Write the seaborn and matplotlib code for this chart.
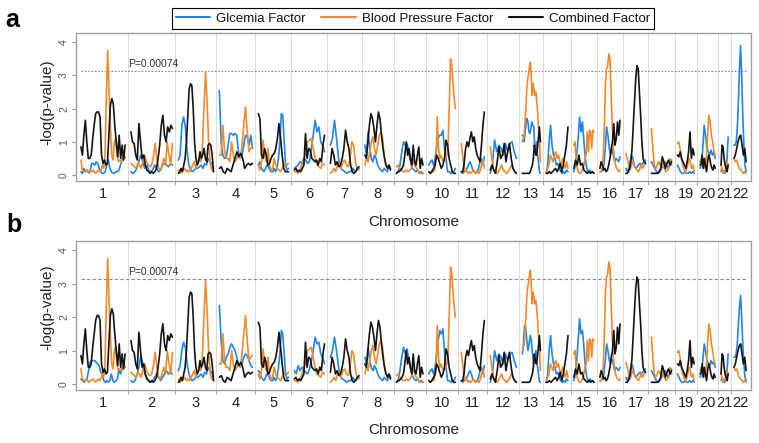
import numpy as np
import pandas as pd
import matplotlib
matplotlib.use("Agg")
import matplotlib.pyplot as plt
from matplotlib.lines import Line2D
import seaborn as sns

# ---------------- data ----------------
CHROMS = [str(i) for i in range(1, 23)]
CHR_LEN_CM = [290, 275, 238, 226, 209, 209, 200, 183, 188, 188, 168, 186,
              139, 160, 151, 151, 148, 151, 131, 122, 75, 104]
THRESH_P = 0.00074
SERIES = ["Glcemia Factor", "Blood Pressure Factor", "Combined Factor"]

# Blood pressure factor (identical in both panels)
BP = [
    [0.45, 0.15, 0.1, 0.1, 0.15, 0.1, 0.05, 0.1, 0.1, 0.15, 0.1, 0.05, 0.1, 0.15, 0.1, 0.15, 0.3, 0.2, 0.6, 2.4, 3.75, 2.5, 1.5, 0.6, 0.45, 1.0, 1.1, 0.6, 0.4, 0.45, 0.4, 0.5, 0.6, 0.5],
    [0.35, 0.3, 0.25, 0.2, 0.35, 0.3, 0.2, 0.45, 0.6, 0.4, 0.3, 0.25, 0.3, 0.55, 0.95, 0.5, 0.2, 0.15, 0.3, 0.5, 0.3, 1.0, 0.6, 0.3, 0.95],
    [0.15, 0.05, 0.1, 0.15, 0.2, 0.1, 0.15, 0.1, 0.2, 0.3, 0.4, 0.2, 0.35, 0.5, 0.4, 0.8, 2.0, 3.1, 2.2, 0.9, 0.3, 0.15, 0.1],
    [0.6, 0.6, 1.5, 0.7, 0.5, 0.5, 0.4, 1.0, 0.6, 0.4, 0.5, 0.6, 0.5, 0.9, 1.5, 2.05, 1.3, 0.7, 0.8, 0.85],
    [0.3, 0.15, 0.4, 1.05, 0.6, 0.4, 0.8, 0.3, 0.15, 0.2, 0.5, 0.3, 0.2, 0.15, 0.1, 0.2, 0.3, 0.35, 0.3, 0.35],
    [0.1, 0.1, 0.05, 0.15, 0.3, 0.5, 0.6, 1.0, 1.05, 1.1, 0.8, 0.5, 0.3, 0.25, 0.2, 0.35, 0.3],
    [0.05, 0.1, 0.2, 0.1, 0.3, 0.35, 0.2, 0.4, 0.45, 0.3, 0.25, 0.5, 1.0, 0.9, 0.4, 0.2, 0.15],
    [0.3, 0.5, 0.4, 0.7, 1.0, 1.15, 0.8, 0.6, 0.9, 1.2, 1.3, 1.1, 0.6, 0.3, 0.25, 0.3, 0.2],
    [0.25, 0.3, 0.2, 0.15, 0.1, 0.1, 0.15, 0.1, 0.15, 0.2, 0.5, 0.3, 0.2, 0.15, 0.05, 0.05, 0.05],
    [0.1, 0.05, 0.1, 0.15, 0.1, 0.2, 0.5, 1.75, 0.8, 0.5, 0.6, 0.5, 0.4, 0.45, 0.5, 0.6, 1.0, 2.2, 3.5, 3.3, 2.8, 2.3, 2.0],
    [0.95, 0.6, 0.3, 0.1, 0.15, 0.05, 0.1, 0.05, 0.1, 0.15, 0.1, 0.05, 0.1, 0.05, 0.15, 0.3, 0.45, 0.2],
    [0.85, 0.5, 0.2, 0.1, 0.05, 0.1, 0.2, 0.3, 0.15, 0.1, 0.05, 0.1, 0.2, 0.3, 0.2, 0.1, 0.05],
    [1.0, 1.1, 1.15, 1.6, 2.0, 2.6, 2.9, 3.05, 3.3, 3.4, 2.9, 2.4, 2.75, 2.6, 2.4, 2.5, 2.2, 1.9, 1.4, 1.0, 0.4],
    [0.1, 0.2, 0.3, 0.6, 0.5, 0.4, 0.6, 0.7, 0.5, 0.6, 0.4, 0.3, 0.5, 0.3, 0.2, 0.4, 0.2],
    [0.9, 1.0, 0.5, 0.2, 0.1, 0.05, 0.05, 0.1, 0.2, 0.3, 0.5, 0.6, 1.3, 0.7, 1.35, 1.3, 0.8, 1.35, 1.3],
    [0.1, 0.1, 0.2, 0.5, 1.5, 2.8, 3.2, 3.3, 3.65, 3.5, 2.5, 1.5, 0.8, 0.5, 0.3, 0.2, 0.15, 0.1, 0.15],
    [0.65, 0.5, 0.3, 0.15, 0.3, 0.4, 0.3, 0.2, 0.15, 0.1, 0.2, 0.3, 0.2, 0.3, 0.35],
    [1.4, 0.8, 0.3, 0.2, 0.3, 0.4, 0.3, 0.4, 0.3, 0.2, 0.1, 0.15, 0.2, 0.5, 0.3],
    [0.95, 1.0, 0.8, 0.5, 0.3, 0.2, 0.1, 0.15, 0.3, 0.5, 0.4, 0.2, 0.3, 0.1],
    [0.4, 0.5, 0.3, 0.2, 0.3, 0.5, 1.2, 1.8, 1.6, 1.2, 1.0, 0.7, 0.6],
    [0.3, 0.2, 0.05, 0.1, 0.1, 0.2, 0.4, 0.3, 0.35],
    [0.5, 0.4, 0.45, 0.3, 0.2, 0.15, 0.1, 0.05, 0.1, 0.05],
]

# Glycemia factor, panel a
GLY_A = [
    [0.1, 0.05, 0.2, 0.1, 0.15, 0.1, 0.1, 0.35, 0.35, 0.3, 0.4, 0.35, 0.2, 0.1, 0.05, 0.05, 0.1, 0.3, 0.45, 0.2, 0.1, 0.05, 0.05, 0.1, 0.1, 0.15, 0.3, 0.45, 0.5, 0.55],
    [0.1, 0.05, 0.1, 0.2, 0.4, 0.6, 0.4, 0.2, 0.3, 0.15, 0.1, 0.15, 0.3, 0.2, 0.1, 0.15, 0.3, 0.35, 0.3, 0.25, 0.35, 0.3],
    [0.45, 0.6, 1.5, 1.75, 1.45, 0.7, 0.3, 0.15, 0.1, 0.15, 0.2, 0.2, 0.25, 0.3, 0.2, 0.35, 0.3, 0.5, 0.4, 0.35, 0.2],
    [2.55, 1.0, 0.6, 0.5, 0.55, 0.9, 1.25, 1.25, 1.2, 1.25, 1.2, 0.7, 0.5, 0.6, 0.9, 1.2, 1.15, 0.9, 1.2, 0.8],
    [0.3, 0.4, 0.2, 0.15, 0.1, 0.2, 0.3, 0.25, 0.15, 0.1, 0.1, 0.2, 0.1, 0.2, 0.5, 1.0, 1.85, 1.8, 1.0, 0.3, 0.15, 0.2],
    [0.2, 0.25, 0.3, 0.4, 0.35, 0.5, 0.45, 0.35, 0.4, 0.8, 1.2, 1.65, 1.3, 1.45, 1.0, 0.9, 0.7],
    [0.9, 1.1, 1.65, 1.1, 0.5, 0.2, 0.15, 0.1, 0.05, 0.1, 0.1, 0.2, 0.1, 0.15, 0.2],
    [0.9, 0.6, 1.3, 0.8, 0.5, 0.4, 0.6, 0.5, 0.3, 0.2, 0.15, 0.1, 0.2, 0.15, 0.1, 0.25, 0.2],
    [0.05, 0.1, 0.3, 0.7, 1.0, 0.9, 0.95, 0.65, 0.4, 0.2, 0.15, 0.1, 0.15, 0.05, 0.1, 0.05],
    [0.3, 0.4, 0.45, 0.3, 0.5, 0.8, 1.1, 1.2, 1.2, 1.35, 0.8, 0.5, 0.1, 0.1, 0.05, 0.1, 0.1, 0.2],
    [0.1, 0.05, 0.1, 0.15, 0.2, 0.3, 0.4, 0.3, 0.15, 0.1, 0.05, 0.1, 0.2, 0.4, 0.5, 0.3, 0.55],
    [0.05, 0.3, 1.05, 0.7, 0.9, 0.8, 0.6, 0.95, 0.7, 0.95, 1.0, 0.7, 0.5],
    [1.2, 1.2, 1.0, 1.3, 1.55, 1.7, 1.6, 1.3, 1.25, 1.4, 1.6, 1.5, 1.45, 0.9, 0.6, 1.0, 0.6, 0.4, 0.1, 0.05],
    [0.05, 0.3, 1.0, 1.5, 0.9, 0.6, 0.5, 0.3, 0.35, 0.2, 0.1, 0.05, 0.1, 0.05, 0.15, 0.1],
    [0.1, 0.3, 0.6, 1.1, 1.75, 1.3, 1.6, 1.0, 0.5, 0.2, 0.1, 0.15, 0.1, 0.1, 0.05],
    [0.1, 0.1, 0.15, 0.3, 0.8, 1.45, 1.2, 0.8, 0.6, 0.8, 0.6, 0.4, 0.5, 0.45, 0.4, 0.55],
    [0.2, 0.1, 0.2, 0.4, 0.6, 0.5, 0.3, 0.2, 0.25, 0.3, 0.35, 0.3, 0.35, 0.4, 0.45],
    [0.4, 0.3, 0.2, 0.1, 0.05, 0.1, 0.2, 0.35, 0.4, 0.3, 0.2, 0.3, 0.45],
    [0.3, 0.2, 0.1, 0.05, 0.05, 0.1, 0.05, 0.05, 0.1, 0.05, 0.1, 0.05],
    [0.2, 0.3, 0.8, 1.5, 1.2, 0.8, 0.7, 0.6, 0.75, 0.6, 0.7, 0.5],
    [0.1, 0.2, 0.15, 0.1, 0.05, 0.1, 0.2, 0.6, 1.15],
    [0.9, 0.9, 1.0, 1.4, 2.2, 3.2, 3.9, 3.0, 1.8, 0.9, 0.3, 0.1],
]

# Glycemia factor, panel b
GLY_B = [
    [0.15, 0.1, 0.05, 0.1, 0.15, 0.4, 0.65, 0.7, 0.7, 0.7, 0.65, 0.6, 0.55, 0.35, 0.3, 0.1, 0.05, 0.1, 0.05, 0.1, 0.3, 0.1, 0.05, 0.1, 0.15, 0.45, 0.3, 0.45, 0.5, 0.5],
    [0.1, 0.05, 0.1, 0.25, 0.5, 0.85, 0.6, 0.3, 0.2, 0.1, 0.05, 0.1, 0.2, 0.3, 0.2, 0.1, 0.2, 0.3, 0.4, 0.3, 0.35, 0.3],
    [0.4, 0.55, 1.0, 1.25, 1.1, 0.6, 0.3, 0.15, 0.1, 0.15, 0.2, 0.2, 0.25, 0.3, 0.2, 0.35, 0.3, 0.5, 0.4, 0.35, 0.2],
    [2.35, 1.3, 0.7, 0.6, 0.8, 0.9, 1.1, 1.2, 1.1, 1.0, 0.8, 0.6, 0.5, 0.6, 0.8, 0.9, 0.85, 0.7, 0.55, 0.5],
    [0.4, 0.35, 0.2, 0.15, 0.1, 0.2, 0.3, 0.25, 0.15, 0.1, 0.1, 0.2, 0.1, 0.2, 0.5, 0.9, 1.6, 1.5, 0.9, 0.3, 0.15, 0.2],
    [0.4, 0.3, 0.55, 0.4, 0.5, 0.4, 0.35, 0.3, 0.45, 0.7, 1.0, 1.4, 1.2, 1.25, 0.9, 0.8, 0.6],
    [0.8, 1.0, 1.4, 1.0, 0.5, 0.2, 0.15, 0.1, 0.05, 0.1, 0.1, 0.2, 0.1, 0.15, 0.2],
    [0.8, 0.6, 1.1, 0.7, 0.5, 0.4, 0.55, 0.45, 0.3, 0.2, 0.15, 0.1, 0.2, 0.15, 0.1, 0.25, 0.2],
    [0.05, 0.1, 0.4, 0.8, 1.1, 0.9, 1.05, 0.7, 0.45, 0.25, 0.15, 0.1, 0.15, 0.05, 0.1, 0.05],
    [0.3, 0.4, 0.45, 0.3, 0.5, 0.9, 1.3, 1.6, 1.5, 1.65, 1.0, 0.5, 0.1, 0.1, 0.05, 0.1, 0.1, 0.2],
    [0.1, 0.05, 0.1, 0.15, 0.2, 0.3, 0.4, 0.3, 0.15, 0.1, 0.05, 0.1, 0.2, 0.4, 0.5, 0.3, 0.55],
    [0.05, 0.3, 1.0, 0.7, 0.9, 0.8, 0.6, 0.9, 0.7, 0.9, 0.95, 0.7, 0.5],
    [0.9, 1.2, 1.75, 1.7, 1.3, 1.0, 1.2, 1.45, 1.3, 0.9, 0.6, 0.8, 1.0, 0.6, 0.4, 0.1, 0.05],
    [0.05, 0.3, 1.0, 1.45, 0.9, 0.6, 0.5, 0.3, 0.35, 0.2, 0.1, 0.05, 0.1, 0.05, 0.15, 0.1],
    [0.1, 0.3, 0.7, 1.3, 1.95, 1.5, 1.6, 1.1, 0.5, 0.2, 0.1, 0.15, 0.1, 0.1, 0.05],
    [0.1, 0.1, 0.15, 0.3, 0.7, 1.2, 1.0, 0.7, 0.6, 0.75, 0.6, 0.4, 0.5, 0.45, 0.4, 0.5],
    [0.2, 0.1, 0.2, 0.4, 0.6, 0.5, 0.3, 0.2, 0.25, 0.3, 0.35, 0.3, 0.35, 0.4, 0.45],
    [0.4, 0.3, 0.2, 0.1, 0.05, 0.1, 0.2, 0.35, 0.4, 0.3, 0.2, 0.3, 0.45],
    [0.3, 0.2, 0.1, 0.05, 0.05, 0.1, 0.05, 0.05, 0.1, 0.05, 0.1, 0.05],
    [0.2, 0.3, 0.7, 1.2, 1.0, 0.7, 0.6, 0.55, 0.7, 0.6, 0.65, 0.5],
    [0.1, 0.2, 0.15, 0.1, 0.05, 0.1, 0.2, 0.5, 0.9],
    [0.8, 0.8, 0.9, 1.2, 1.8, 2.3, 2.65, 2.0, 1.2, 0.6, 0.2, 0.1],
]

# Combined factor, panel a
COMB_A = [
    [0.85, 0.6, 1.2, 1.65, 1.0, 0.5, 0.5, 0.6, 1.1, 1.5, 1.85, 1.9, 1.9, 1.75, 0.6, 0.35, 0.45, 0.3, 0.35, 1.2, 2.1, 2.3, 2.15, 1.5, 1.0, 0.55, 1.2, 0.5, 0.9, 0.45, 0.9],
    [1.3, 1.0, 0.95, 0.6, 0.45, 1.55, 1.0, 0.5, 0.6, 0.3, 0.15, 0.1, 0.05, 0.1, 0.05, 0.1, 0.2, 0.5, 0.9, 1.5, 1.8, 1.2, 1.0, 1.45, 1.3, 1.5, 1.4],
    [0.05, 0.1, 0.2, 0.1, 0.3, 0.5, 1.0, 1.8, 2.6, 2.75, 2.7, 2.0, 1.0, 0.5, 0.3, 0.4, 0.7, 0.5, 0.6, 0.8, 0.5, 0.4, 0.9, 0.95, 0.9, 0.6, 0.1],
    [0.2, 0.25, 0.1, 0.05, 0.2, 0.15, 0.1, 0.3, 0.5, 0.7, 0.55, 0.65, 0.5, 0.2, 0.3, 0.35, 0.3, 0.35],
    [1.85, 1.7, 0.6, 0.5, 0.8, 0.6, 0.3, 0.35, 0.5, 0.6, 0.65, 0.8, 1.1, 1.55, 1.1, 0.6, 0.2, 0.1, 0.1, 0.1],
    [0.15, 0.2, 0.1, 0.15, 0.1, 0.2, 0.3, 1.25, 0.5, 0.8, 0.75, 0.5, 0.45, 0.4, 0.45, 0.3, 0.5, 0.4, 0.9, 1.2],
    [0.35, 0.8, 0.6, 0.3, 0.4, 0.25, 0.3, 0.5, 0.8, 1.35, 1.0, 0.8, 0.3, 0.1, 0.05, 0.1, 0.2, 0.25],
    [0.6, 0.5, 1.0, 1.5, 1.85, 1.7, 1.4, 1.0, 1.5, 1.9, 1.7, 1.2, 0.8, 0.5, 0.3, 0.2, 0.3, 0.15],
    [0.05, 0.1, 0.1, 0.15, 0.2, 0.3, 0.6, 1.0, 0.6, 0.8, 0.5, 0.3, 0.9, 0.4, 0.3, 0.6, 0.85, 0.2, 0.5, 0.3],
    [0.1, 0.05, 0.1, 0.2, 0.3, 0.6, 0.5, 0.35, 0.2, 0.3, 0.5, 1.05, 0.9, 0.5, 0.3, 0.1, 0.05, 0.05],
    [0.1, 0.1, 0.35, 0.8, 1.0, 0.85, 1.1, 1.3, 1.0, 1.15, 0.8, 0.6, 0.5, 0.4, 0.9, 1.5, 1.9],
    [0.15, 0.3, 0.15, 0.05, 0.4, 0.85, 0.5, 0.6, 0.95, 0.4, 0.7, 0.95, 0.5, 0.2, 0.1, 0.05],
    [0.05, 0.05, 0.05, 0.05, 0.05, 0.05, 0.05, 0.05, 0.1, 0.2, 0.3, 0.5, 0.9, 0.7, 0.6, 0.8, 1.1, 1.45, 1.0],
    [0.05, 0.05, 0.1, 0.05, 0.1, 0.15, 0.2, 0.1, 0.2, 0.35, 0.1, 0.3, 0.6, 0.9, 1.45],
    [0.2, 0.45, 0.3, 0.6, 0.3, 0.35, 0.15, 0.1, 0.05, 0.1, 0.05, 0.1, 0.05],
    [0.2, 0.4, 0.3, 0.15, 0.2, 0.1, 0.15, 0.3, 0.5, 0.8, 1.0, 1.55, 0.9, 1.1, 1.6, 1.2, 1.65],
    [0.05, 0.05, 0.1, 0.2, 0.4, 0.8, 1.5, 2.2, 2.9, 3.3, 3.2, 2.5, 1.8, 1.0, 0.5, 0.4, 0.35],
    [0.05, 0.05, 0.05, 0.05, 0.05, 0.1, 0.2, 0.55, 0.4, 0.2, 0.35, 0.45, 0.3, 0.4],
    [0.6, 0.55, 0.7, 0.5, 0.4, 0.3, 0.2, 0.4, 0.7, 1.3, 0.5, 0.8, 0.6],
    [0.3, 0.35, 0.6, 0.2, 0.5, 0.3, 0.1, 0.4, 0.6, 0.5, 0.3, 0.2, 0.15, 0.3, 0.2],
    [0.3, 0.9, 0.85, 0.5, 0.3, 0.2, 0.1, 0.3],
    [0.5, 0.6, 0.8, 1.0, 1.15, 1.2, 0.9, 0.6, 0.8, 0.4],
]

# Combined factor, panel b (same as a except where it differs visibly)
COMB_B = [list(c) for c in COMB_A]
COMB_B[0] = [0.85, 0.6, 1.2, 1.65, 1.0, 0.5, 0.5, 0.6, 1.1, 1.5, 1.9, 2.05, 2.05, 1.9, 0.6, 0.35, 0.45, 0.3, 0.35, 1.2, 2.05, 2.25, 2.1, 1.5, 1.0, 0.55, 1.2, 0.5, 0.9, 0.45, 0.9]
COMB_B[15] = [0.2, 0.4, 0.3, 0.15, 0.2, 0.1, 0.15, 0.3, 0.5, 0.8, 1.0, 1.6, 0.9, 1.1, 1.7, 1.2, 1.8]
COMB_B[16] = [0.05, 0.05, 0.1, 0.2, 0.4, 0.8, 1.5, 2.2, 2.85, 3.2, 3.1, 2.4, 1.8, 1.0, 0.5, 0.4, 0.35]

# ---------------- style ----------------
sns.set_theme(style="white")
plt.rcParams["font.family"] = ["Liberation Sans", "DejaVu Sans"]

PALETTE = {"Glcemia Factor": "#1f86ec",
           "Blood Pressure Factor": "#f28a2c",
           "Combined Factor": "#141414"}

starts = np.concatenate([[0], np.cumsum(CHR_LEN_CM)[:-1]])
ends = np.cumsum(CHR_LEN_CM)
centers = (starts + ends) / 2
MARGIN = 17


def build_frame(gly, bp, comb):
    rows = []
    for name, series in zip(SERIES, [gly, bp, comb]):
        for ci, vals in enumerate(series):
            xs = np.linspace(starts[ci] + MARGIN, ends[ci] - MARGIN, len(vals))
            for x, v in zip(xs, vals):
                rows.append({"pos": x, "value": v, "factor": name, "chrom": CHROMS[ci]})
    return pd.DataFrame(rows)


W, H = 759, 443
fig = plt.figure(figsize=(W / 100, H / 100), dpi=100)
ax_a = fig.add_axes([76 / W, 1 - 181 / H, 675 / W, 148 / H])
ax_b = fig.add_axes([76 / W, 1 - 390 / H, 675 / W, 149 / H])

thr = -np.log10(THRESH_P)

for ax, gly, comb, dash in [(ax_a, GLY_A, COMB_A, (0, (1.5, 1.5))),
                            (ax_b, GLY_B, COMB_B, (0, (3, 2)))]:
    df = build_frame(gly, BP, comb)
    for b in ends[:-1]:
        ax.axvline(b, color="#dcdcdc", lw=0.8, zorder=0)
    sns.lineplot(data=df, x="pos", y="value", hue="factor", hue_order=SERIES,
                 units="chrom", estimator=None, palette=PALETTE, lw=1.2,
                 legend=False, ax=ax, zorder=3)
    ax.hlines(thr, starts[0] + MARGIN, ends[-1] - MARGIN, colors="#8a8a8a",
              linestyles=[dash], lw=0.8, zorder=2)
    ax.text(starts[1] + 3, thr + 0.07, "P=0.00074", fontsize=7.5, color="#333333",
            ha="left", va="bottom")
    ax.set_xlim(-11.6, ends[-1] + 11.6)
    ax.set_ylim(-0.18, 4.28)
    ax.set_xlabel("")
    ax.set_ylabel("")
    # ticks
    ax.set_yticks([0, 1, 2, 3, 4])
    ax.set_yticklabels(["0", "1", "2", "3", "4"], rotation=90, va="center",
                       fontsize=7.5, color="#555555")
    ax.tick_params(axis="y", left=True, length=3, width=0.8, color="#999999", pad=2)
    ax.set_xticks(ends[:-1])
    ax.set_xticklabels([])
    ax.set_xticks(centers, minor=True)
    ax.set_xticklabels(CHROMS, minor=True, fontsize=10.5, color="#222222")
    ax.tick_params(axis="x", which="major", bottom=True, length=3, width=0.8,
                   color="#aaaaaa")
    ax.tick_params(axis="x", which="minor", bottom=True, length=0, pad=4)
    for s in ax.spines.values():
        s.set_color("#a0a0a0")
        s.set_linewidth(1.0)

# axis titles
for yc_lab, yc_chr in [(102, 222), (307, 430)]:
    fig.text(47 / W, 1 - yc_lab / H, "-log(p-value)", rotation=90, ha="center",
             va="center", fontsize=11, color="#222222")
    fig.text(414 / W, 1 - yc_chr / H, "Chromosome", ha="center", va="center",
             fontsize=11, color="#222222")

# panel letters
fig.text(12 / W, 1 - 20 / H, "a", fontsize=18, fontweight="bold", color="black",
         ha="center", va="center")
fig.text(14 / W, 1 - 225 / H, "b", fontsize=18, fontweight="bold", color="black",
         ha="center", va="center")

# legend
handles = [Line2D([0], [0], color=PALETTE[s], lw=1.5) for s in SERIES]
leg = fig.legend(handles, SERIES, loc="center", bbox_to_anchor=(413 / W, 1 - 18.5 / H),
                 ncol=3, frameon=True, fancybox=False, edgecolor="black",
                 fontsize=9.5, handlelength=2.6, handletextpad=0.45,
                 columnspacing=1.2, borderpad=0.3, framealpha=1)
leg.get_frame().set_linewidth(0.8)
for t in leg.get_texts():
    t.set_color("#111111")

fig.savefig("out.png", dpi=100)
